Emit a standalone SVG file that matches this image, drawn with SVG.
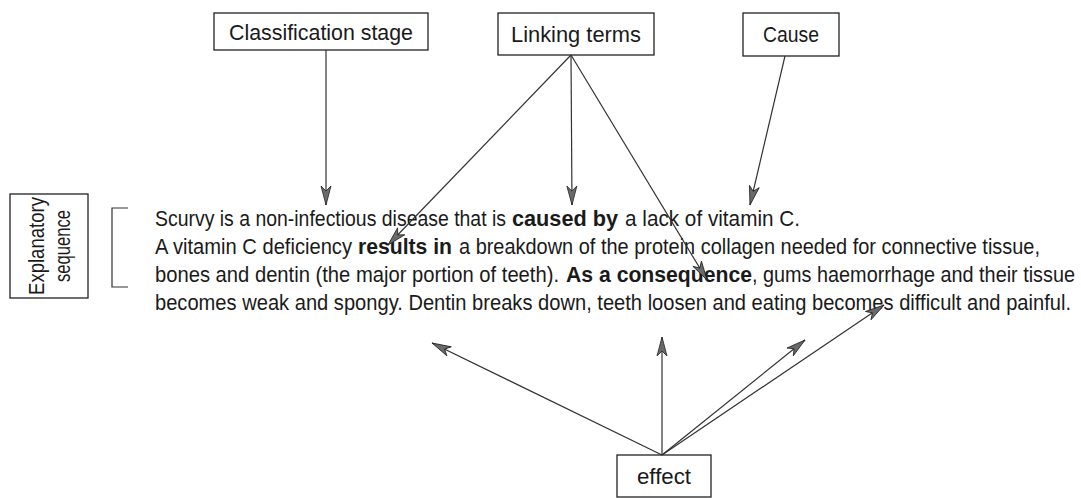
<svg xmlns="http://www.w3.org/2000/svg" width="1081" height="498" viewBox="0 0 1081 498">
<defs>
<style>
.box{fill:#fff;stroke:#222;stroke-width:1.3}
.lbl{font-family:"Liberation Sans Narrow","Liberation Sans",sans-serif;font-size:22px;fill:#1a1a1a}
.txt{font-family:"Liberation Sans Narrow","Liberation Sans",sans-serif;font-size:22px;fill:#1a1a1a}
.b{font-weight:bold}
.con{stroke:#333;stroke-width:1.2;fill:none;marker-end:url(#ah)}
.brk{stroke:#333;stroke-width:1.2;fill:none}
</style>
<marker id="ah" markerUnits="userSpaceOnUse" markerWidth="24" markerHeight="14" viewBox="-20 -7 24 14" refX="0" refY="0" orient="auto">
<path d="M0,0 L-19,-5 L-14,0 L-19,5 Z" fill="#6a6a6a" stroke="#222" stroke-width="0.8"/>
</marker>
</defs>
<rect width="1081" height="498" fill="#fff"/>

<g id="classification-stage">
<rect class="box" x="214" y="13" width="214" height="37"/>
<text class="lbl" x="321" y="40" text-anchor="middle" textLength="184" lengthAdjust="spacingAndGlyphs">Classification stage</text>
</g>
<g id="linking-terms">
<rect class="box" x="498" y="13" width="156" height="42"/>
<text class="lbl" x="576" y="42" text-anchor="middle" textLength="130" lengthAdjust="spacingAndGlyphs">Linking terms</text>
</g>
<g id="cause">
<rect class="box" x="743" y="13" width="96" height="43"/>
<text class="lbl" x="791" y="42" text-anchor="middle" textLength="56" lengthAdjust="spacingAndGlyphs">Cause</text>
</g>
<g id="explanatory-sequence">
<rect class="box" x="10" y="194" width="78" height="104"/>
<text class="lbl" transform="translate(44,246) rotate(-90)" text-anchor="middle" textLength="98" lengthAdjust="spacingAndGlyphs">Explanatory</text>
<text class="lbl" transform="translate(70,246) rotate(-90)" text-anchor="middle" textLength="72" lengthAdjust="spacingAndGlyphs">sequence</text>
</g>
<g id="effect">
<rect class="box" x="617" y="455" width="94" height="42"/>
<text class="lbl" x="664" y="484" text-anchor="middle" textLength="54" lengthAdjust="spacingAndGlyphs">effect</text>
</g>

<g id="passage">
<path class="brk" d="M128,208 H112 V287 H128"/>
<text class="txt" x="155" y="226" textLength="351" lengthAdjust="spacingAndGlyphs">Scurvy is a non-infectious disease that is</text>
<text class="txt b" x="512" y="226" textLength="106" lengthAdjust="spacingAndGlyphs">caused by</text>
<text class="txt" x="625" y="226" textLength="175" lengthAdjust="spacingAndGlyphs">a lack of vitamin C.</text>

<text class="txt" x="155" y="254" textLength="197" lengthAdjust="spacingAndGlyphs">A vitamin C deficiency</text>
<text class="txt b" x="358" y="254" textLength="94" lengthAdjust="spacingAndGlyphs">results in</text>
<text class="txt" x="459" y="254" textLength="581" lengthAdjust="spacingAndGlyphs">a breakdown of the protein collagen needed for connective tissue,</text>

<text class="txt" x="155" y="282" textLength="404" lengthAdjust="spacingAndGlyphs">bones and dentin (the major portion of teeth).</text>
<text class="txt b" x="566" y="282" textLength="186" lengthAdjust="spacingAndGlyphs">As a consequence</text>
<text class="txt" x="752" y="282" textLength="323" lengthAdjust="spacingAndGlyphs">, gums haemorrhage and their tissue</text>

<text class="txt" x="155" y="310" textLength="916" lengthAdjust="spacingAndGlyphs">becomes weak and spongy. Dentin breaks down, teeth loosen and eating becomes difficult and painful.</text>
</g>

<g id="connectors">
<line class="con" x1="326" y1="50" x2="326" y2="205"/>
<line class="con" x1="571" y1="55" x2="388" y2="245"/>
<line class="con" x1="571" y1="55" x2="572" y2="205"/>
<line class="con" x1="571" y1="55" x2="707" y2="280"/>
<line class="con" x1="785" y1="56" x2="750" y2="205"/>
<line class="con" x1="662" y1="455" x2="432" y2="343"/>
<line class="con" x1="662" y1="455" x2="662" y2="337"/>
<line class="con" x1="662" y1="455" x2="805" y2="340"/>
<line class="con" x1="662" y1="455" x2="884" y2="305"/>
</g>
</svg>
